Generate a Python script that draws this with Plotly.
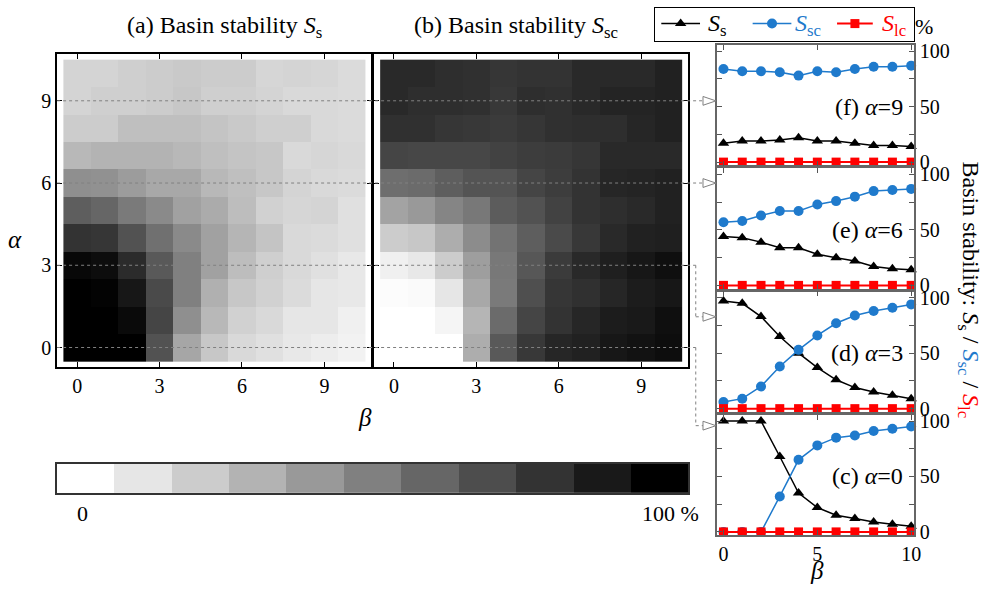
import plotly.graph_objects as go

# ---------------- data ----------------
beta = [0, 1, 2, 3, 4, 5, 6, 7, 8, 9, 10]
alpha = [0, 1, 2, 3, 4, 5, 6, 7, 8, 9, 10]

# Basin stability S_s (%), rows = alpha 0..10, columns = beta 0..10
Ss = [
    [100, 100, 100, 68, 35, 22, 15, 12, 9, 7, 5],
    [100, 100, 96, 73, 44, 28, 18, 15, 10, 10, 6],
    [100, 99, 91, 71, 50, 31, 22, 18, 14, 10, 9],
    [97, 95, 83, 65, 50, 37, 26, 19, 15, 12, 9],
    [80, 79, 68, 56, 46, 37, 29, 23, 15, 14, 12],
    [63, 60, 52, 46, 37, 33, 26, 18, 16, 17, 12],
    [44, 43, 39, 34, 34, 28, 25, 22, 17, 15, 14],
    [28, 30, 30, 30, 28, 25, 23, 22, 15, 16, 15],
    [20, 20, 25, 25, 25, 23, 21, 19, 19, 15, 14],
    [17, 19, 19, 20, 22, 19, 19, 17, 15, 15, 14],
    [17, 17, 19, 20, 21, 20, 20, 16, 17, 16, 14],
]

# Basin stability S_sc (%)
Ssc = [
    [0, 0, 0, 32, 65, 78, 85, 87, 91, 93, 95],
    [0, 0, 4, 29, 58, 73, 80, 85, 89, 90, 94],
    [1, 2, 10, 34, 52, 69, 79, 81, 85, 89, 91],
    [6, 9, 20, 38, 53, 66, 77, 84, 88, 91, 94],
    [20, 22, 32, 45, 55, 63, 71, 78, 84, 87, 88],
    [36, 40, 48, 53, 64, 68, 74, 80, 82, 84, 87],
    [57, 58, 63, 67, 67, 73, 76, 80, 85, 86, 87],
    [73, 72, 72, 72, 74, 76, 77, 79, 84, 84, 84],
    [81, 81, 79, 78, 77, 79, 81, 82, 82, 85, 87],
    [84, 82, 82, 81, 78, 82, 81, 84, 86, 86, 87],
    [84, 84, 82, 81, 79, 80, 80, 84, 84, 84, 87],
]

# Basin stability S_lc (%) for the selected alpha values
Slc = {9: [0] * 11, 6: [0] * 11, 3: [0] * 11, 0: [0] * 11}

panel_alphas = [9, 6, 3, 0]
panel_letters = ["f", "e", "d", "c"]
cbar_levels = [0, 10, 20, 30, 40, 50, 60, 70, 80, 90, 100]
heat_ticks = [0, 3, 6, 9]
panel_xticks = [0, 5, 10]
panel_yticks = [0, 25, 50, 75, 100]
panel_yticktext = ["0", "", "50", "", "100"]

# ---------------- styling ----------------
W, H = 991, 599
FONT = "Liberation Serif"
BLUE = "#1f7acc"
RED = "#ff0000"
GRAY_SCALE = [[0, "#ffffff"], [1, "#000000"]]

series_style = [
    # name, colour, symbol, size, line width
    ("<i>S</i><sub>s</sub>", "black", "triangle-up", 10, 1.5),
    ("<i>S</i><sub>sc</sub>", BLUE, "circle", 10, 1.5),
    ("<i>S</i><sub>lc</sub>", RED, "square", 9, 2),
]


def px(x):
    return x / W


def py(y):
    return 1 - y / H


fig = go.Figure()

HX = [-0.73, 10.71]
HY = [-0.71, 10.71]
hA_dom_x = [px(57.5), px(374)]
hB_dom_x = [px(376.5), px(693)]
h_dom_y = [py(370), py(50)]

fig.add_trace(go.Heatmap(z=Ss, x=beta, y=alpha, colorscale=GRAY_SCALE, zmin=0, zmax=100,
                         showscale=False, xaxis="x", yaxis="y", hoverinfo="skip"))
fig.add_trace(go.Heatmap(z=Ssc, x=beta, y=alpha, colorscale=GRAY_SCALE, zmin=0, zmax=100,
                         showscale=False, xaxis="x2", yaxis="y2", hoverinfo="skip"))
# colour bar drawn as a strip of the 11 levels
fig.add_trace(go.Heatmap(z=[cbar_levels], x=list(range(len(cbar_levels))), y=[0],
                         colorscale=GRAY_SCALE, zmin=0, zmax=100, showscale=False,
                         xaxis="x3", yaxis="y3", hoverinfo="skip"))

tickfont = dict(family=FONT, size=20, color="black")
heat_axis_common = dict(showline=True, linecolor="black", linewidth=1.5, mirror="allticks",
                        ticks="inside", ticklen=5, tickcolor="black", showgrid=False,
                        zeroline=False, tickfont=tickfont)
blank_axis = dict(showticklabels=False, ticks="", showgrid=False, zeroline=False)

layout = dict(
    width=W, height=H, margin=dict(l=0, r=0, t=0, b=0),
    paper_bgcolor="white", plot_bgcolor="white",
    font=dict(family=FONT, size=20, color="black"),
    showlegend=False,
    xaxis=dict(domain=hA_dom_x, range=HX, tickvals=heat_ticks, anchor="y", **heat_axis_common),
    yaxis=dict(domain=h_dom_y, range=HY, tickvals=heat_ticks, anchor="x", **heat_axis_common),
    xaxis2=dict(domain=hB_dom_x, range=HX, tickvals=heat_ticks, anchor="y2", **heat_axis_common),
    yaxis2=dict(domain=h_dom_y, range=HY, tickvals=heat_ticks, anchor="x2", showticklabels=False,
                **heat_axis_common),
    xaxis3=dict(domain=[px(57), px(693)], range=[-0.5, 10.5], anchor="y3", showline=True,
                linecolor="#333", linewidth=1.5, mirror=True, **blank_axis),
    yaxis3=dict(domain=[py(499), py(469)], range=[-0.5, 0.5], anchor="x3", showline=True,
                linecolor="#333", linewidth=1.5, mirror=True, **blank_axis),
    # legend box (axis measured in pixels of the key)
    xaxis8=dict(domain=[px(660), px(920.5)], range=[660, 920.5], anchor="y8", showline=True,
                linecolor="black", linewidth=1, mirror=True, **blank_axis),
    yaxis8=dict(domain=[py(37), py(3)], range=[37, 3], anchor="x8", showline=True,
                linecolor="black", linewidth=1, mirror=True, **blank_axis),
)

# small panels
tops = [41, 167, 293, 419]
PH = 123
annotations = []
for i, (a, letter) in enumerate(zip(panel_alphas, panel_letters)):
    n = i + 4
    xa, ya = f"x{n}", f"y{n}"
    top = tops[i]
    layout[f"xaxis{n}"] = dict(domain=[px(722), px(920.5)], range=[-0.35, 10.15], anchor=ya,
                               tickvals=panel_xticks, ticks="inside", ticklen=5, tickcolor="#555",
                               showline=True, linecolor="#666", linewidth=1.5, mirror="allticks",
                               showgrid=False, zeroline=False, tickfont=tickfont,
                               showticklabels=(letter == "c"))
    layout[f"yaxis{n}"] = dict(domain=[py(top + PH), py(top)], range=[-3, 105.5], anchor=xa,
                               side="right", tickvals=panel_yticks, ticktext=panel_yticktext,
                               ticks="inside", ticklen=5, tickcolor="#555", showline=True,
                               linecolor="#666", linewidth=1.5, mirror="allticks",
                               showgrid=False, zeroline=False, tickfont=tickfont)
    for (name, col, sym, size, lw), vals in zip(series_style, [Ss[a], Ssc[a], Slc[a]]):
        fig.add_trace(go.Scatter(x=beta, y=vals, mode="lines+markers", xaxis=xa, yaxis=ya,
                                 line=dict(color=col, width=lw),
                                 marker=dict(symbol=sym, size=size, color=col),
                                 name=name, cliponaxis=False, hoverinfo="skip"))
    annotations.append(dict(x=9.65, y=50, xref=xa, yref=ya, xanchor="right", yanchor="middle",
                            text=f"({letter}) <i>α</i>={a}", showarrow=False,
                            font=dict(family=FONT, size=24, color="black")))

# legend key: sample line + marker, then label
key_line_x = [(666, 705), (758, 797), (843, 879)]
key_text_x = [711, 799, 886]
for (name, col, sym, size, lw), (x0, x1), tx in zip(series_style, key_line_x, key_text_x):
    fig.add_trace(go.Scatter(x=[x0, x1], y=[19, 19], mode="lines", xaxis="x8", yaxis="y8",
                             line=dict(color=col, width=lw), hoverinfo="skip", cliponaxis=False))
    fig.add_trace(go.Scatter(x=[(x0 + x1) / 2], y=[19], mode="markers", xaxis="x8", yaxis="y8",
                             marker=dict(symbol=sym, size=size, color=col),
                             hoverinfo="skip", cliponaxis=False))
    annotations.append(dict(x=tx, y=20, xref="x8", yref="y8", xanchor="left", yanchor="middle",
                            text=f"<span style='color:{col}'>{name}</span>", showarrow=False,
                            font=dict(family=FONT, size=24, color=col)))


def note(x, y, text, size=22, xanchor="center", **kw):
    return dict(x=px(x), y=py(y), xref="paper", yref="paper", text=text, showarrow=False,
                xanchor=xanchor, yanchor="middle",
                font=dict(family=FONT, size=size, color="black"), **kw)


annotations += [
    note(226, 22, "(a) Basin stability <i>S</i><sub>s</sub>", size=24),
    note(520, 22, "(b) Basin stability <i>S</i><sub>sc</sub>", size=24),
    note(15, 240, "<i>α</i>", size=25),
    note(368, 422, "<i>β</i>", size=25),
    note(823, 578, "<i>β</i>", size=25),
    note(83, 520, "0", size=22),
    note(706, 520, "100 %", size=22, xanchor="right"),
    note(931, 22, "%", size=22),
    note(976, 291, ("Basin stability: <i>S</i><sub>s</sub> / "
                    f"<span style='color:{BLUE}'><i>S</i><sub>sc</sub></span> / "
                    f"<span style='color:{RED}'><i>S</i><sub>lc</sub></span>"),
         size=24, textangle=90),
]
layout["annotations"] = annotations


# guide lines from the heatmaps to the panels
def alpha_to_paper(a):
    d0, d1 = h_dom_y
    return d0 + (a - HY[0]) / (HY[1] - HY[0]) * (d1 - d0)


arrow_target_px = {9: 98, 6: 182, 3: 318.7, 0: 430}
shapes = []
line_style = dict(color="#808080", width=1, dash="dot")
for a in panel_alphas:
    yl = alpha_to_paper(a)
    yt = py(arrow_target_px[a])
    if a in (9, 6):
        shapes.append(dict(type="line", xref="paper", yref="paper", x0=px(57.5), x1=px(708),
                           y0=yl, y1=yl, line=line_style, layer="above"))
    else:
        shapes.append(dict(type="line", xref="paper", yref="paper", x0=px(57.5), x1=px(700.7),
                           y0=yl, y1=yl, line=line_style, layer="above"))
        shapes.append(dict(type="line", xref="paper", yref="paper", x0=px(700.7), x1=px(700.7),
                           y0=yl, y1=yt, line=line_style, layer="above"))
        shapes.append(dict(type="line", xref="paper", yref="paper", x0=px(700.7), x1=px(708),
                           y0=yt, y1=yt, line=line_style, layer="above"))
    path = (f"M {px(708)},{yt + 4.5 / H} L {px(721)},{yt} L {px(708)},{yt - 4.5 / H} Z")
    shapes.append(dict(type="path", xref="paper", yref="paper", path=path,
                       line=dict(color="#808080", width=1), fillcolor="white", layer="above"))
layout["shapes"] = shapes

fig.update_layout(**layout)
fig.write_html("out.html")
